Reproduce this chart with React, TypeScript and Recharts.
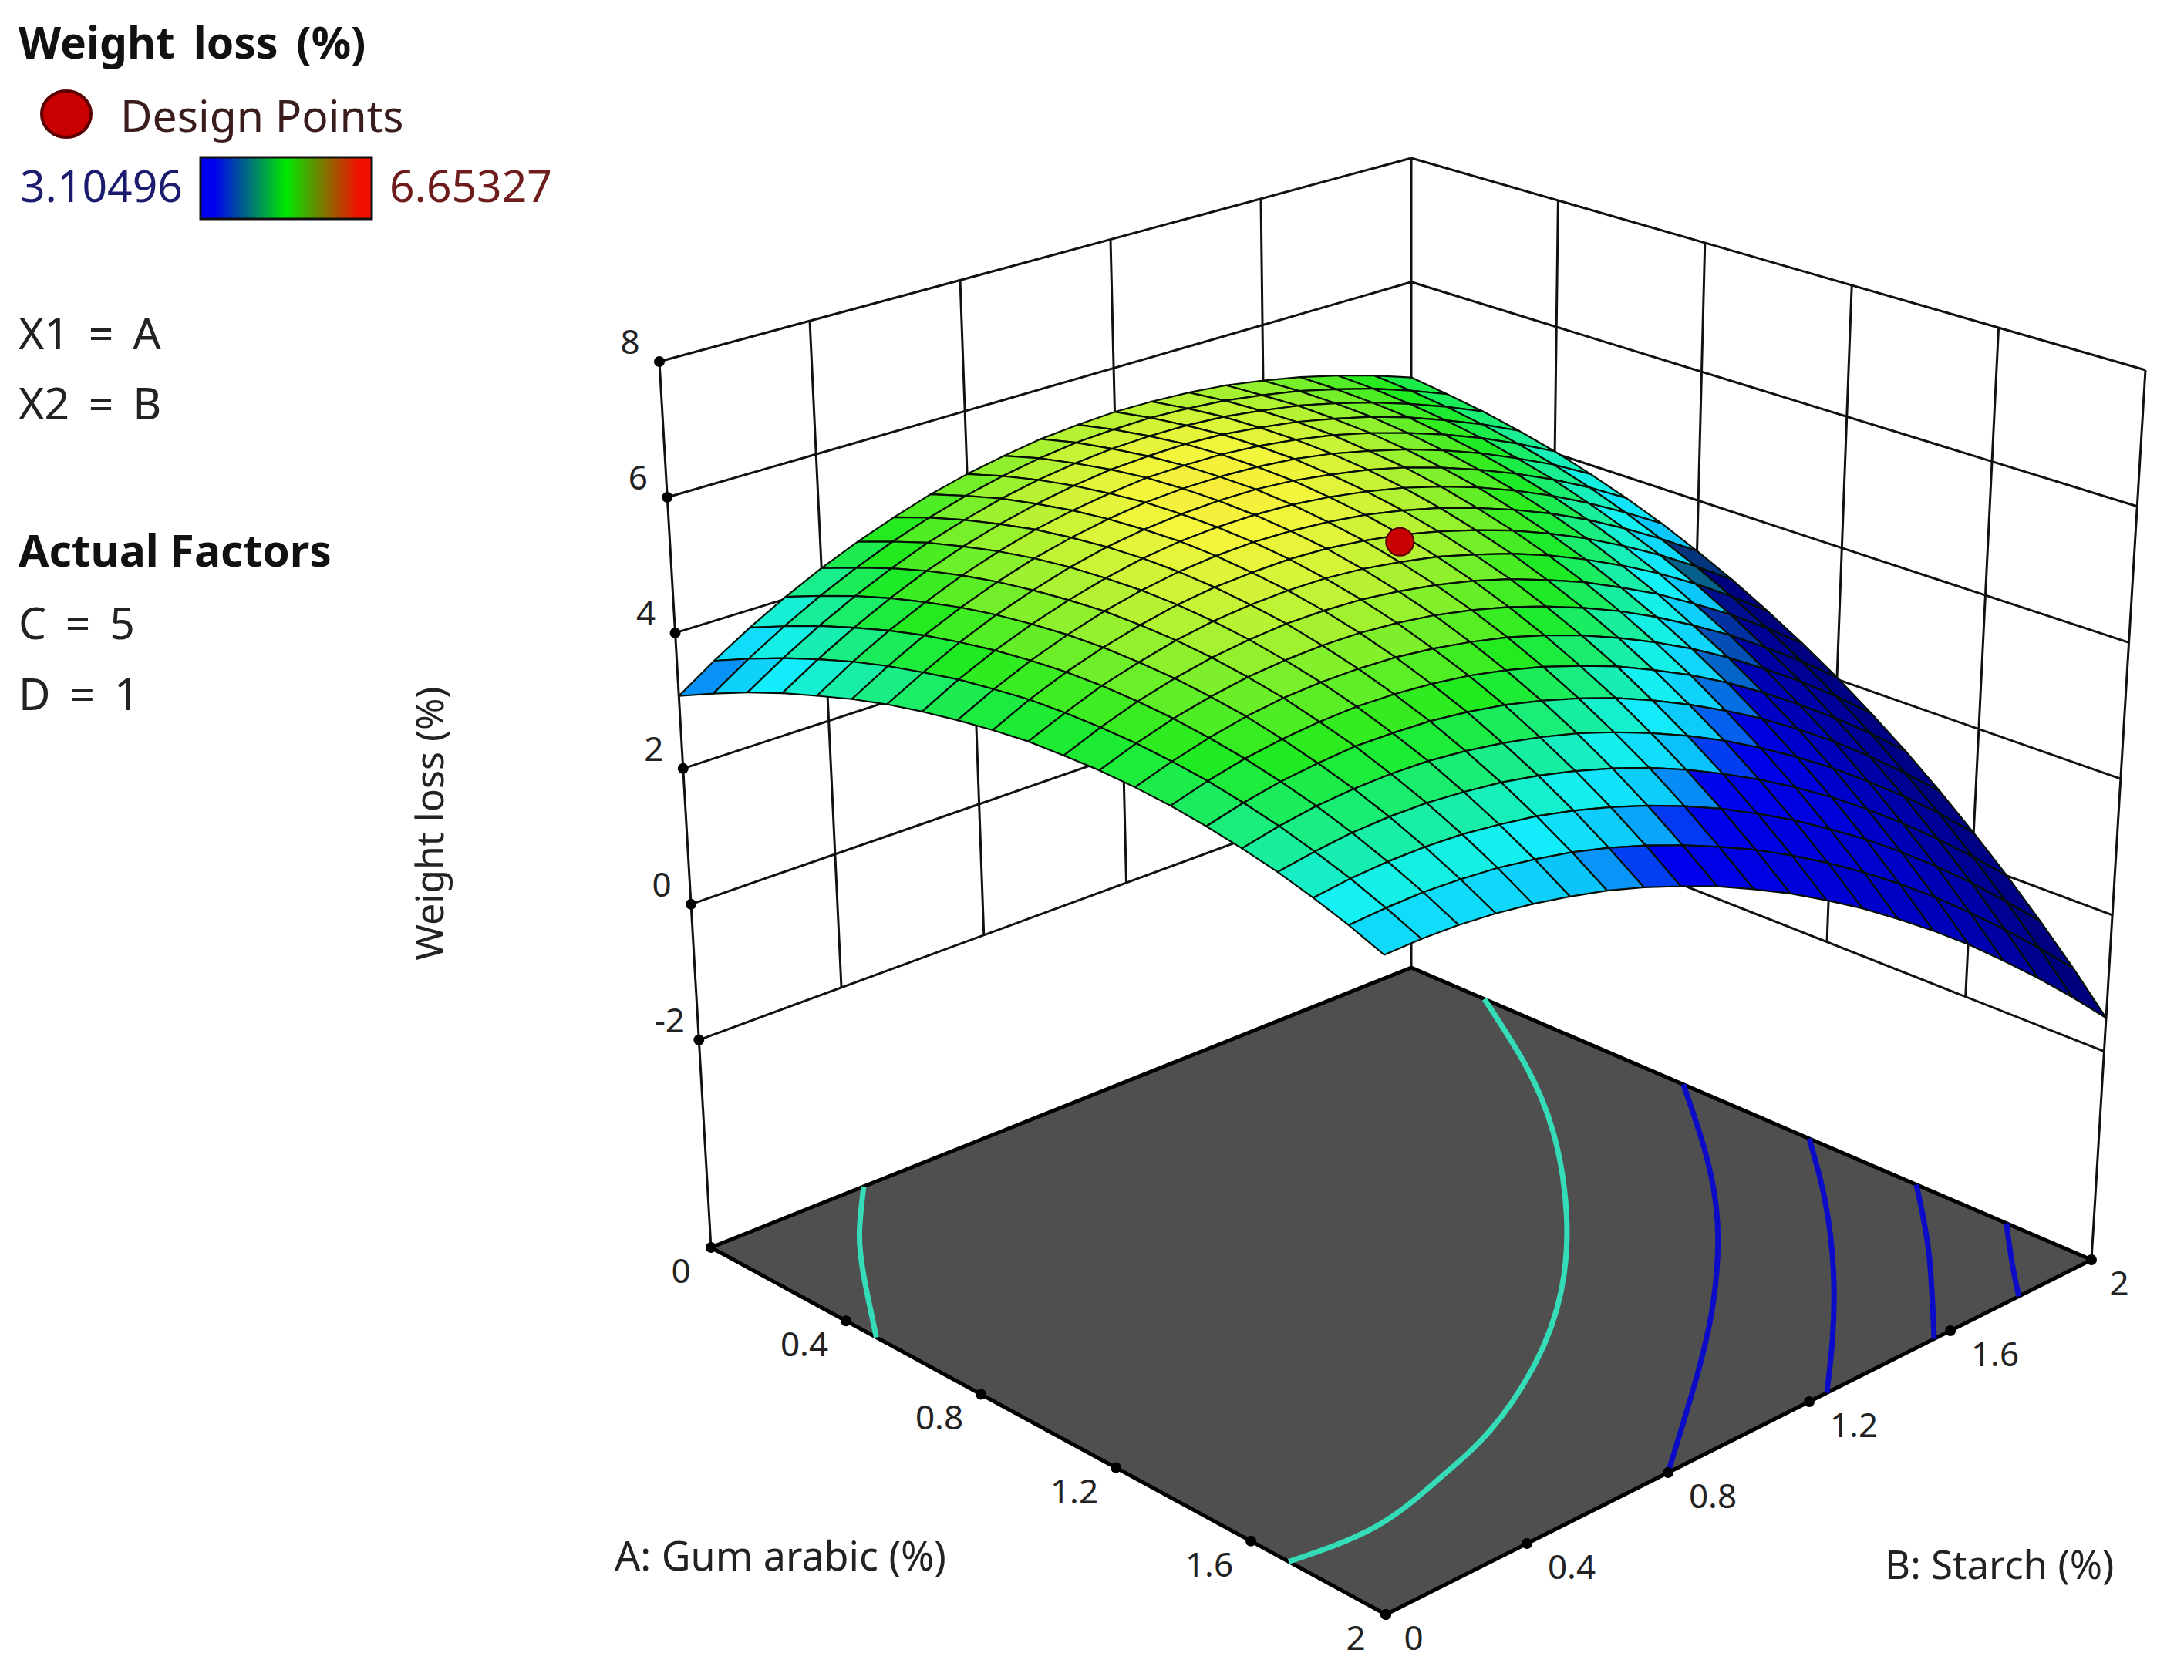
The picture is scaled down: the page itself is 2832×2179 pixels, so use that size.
import { ComposedChart, Line, Scatter, XAxis, YAxis } from 'recharts';

const W = 2832;
const H = 2179;

// A = 0..2 by rows, B = 0..2 by columns
const weightLoss = [
  [3.07, 3.42, 3.74, 4.03, 4.29, 4.52, 4.72, 4.90, 5.04, 5.15, 5.24, 5.29, 5.32, 5.31, 5.28, 5.22, 5.12, 5.00, 4.85, 4.67, 4.46],
  [3.34, 3.68, 3.99, 4.27, 4.52, 4.74, 4.93, 5.09, 5.22, 5.32, 5.39, 5.42, 5.43, 5.40, 5.35, 5.26, 5.15, 5.00, 4.83, 4.62, 4.38],
  [3.59, 3.92, 4.22, 4.49, 4.73, 4.94, 5.11, 5.26, 5.37, 5.45, 5.50, 5.52, 5.51, 5.47, 5.39, 5.29, 5.15, 4.98, 4.78, 4.55, 4.29],
  [3.81, 4.13, 4.42, 4.68, 4.91, 5.10, 5.26, 5.39, 5.49, 5.56, 5.59, 5.60, 5.57, 5.50, 5.41, 5.28, 5.13, 4.94, 4.71, 4.46, 4.17],
  [4.00, 4.32, 4.60, 4.84, 5.06, 5.24, 5.39, 5.50, 5.58, 5.64, 5.65, 5.64, 5.59, 5.51, 5.40, 5.25, 5.07, 4.86, 4.62, 4.34, 4.03],
  [4.18, 4.48, 4.75, 4.98, 5.18, 5.35, 5.48, 5.58, 5.65, 5.68, 5.68, 5.65, 5.59, 5.49, 5.35, 5.19, 4.99, 4.76, 4.49, 4.20, 3.86],
  [4.33, 4.61, 4.87, 5.09, 5.27, 5.43, 5.55, 5.63, 5.68, 5.70, 5.69, 5.64, 5.55, 5.44, 5.29, 5.10, 4.88, 4.63, 4.35, 4.03, 3.67],
  [4.45, 4.73, 4.97, 5.17, 5.34, 5.48, 5.59, 5.66, 5.69, 5.69, 5.66, 5.59, 5.49, 5.36, 5.19, 4.99, 4.75, 4.48, 4.17, 3.83, 3.46],
  [4.55, 4.81, 5.04, 5.23, 5.39, 5.51, 5.60, 5.65, 5.67, 5.65, 5.60, 5.52, 5.40, 5.25, 5.06, 4.84, 4.59, 4.30, 3.97, 3.61, 3.22],
  [4.63, 4.88, 5.09, 5.26, 5.40, 5.51, 5.58, 5.61, 5.62, 5.59, 5.52, 5.42, 5.28, 5.11, 4.91, 4.67, 4.40, 4.09, 3.75, 3.37, 2.96],
  [4.69, 4.91, 5.11, 5.26, 5.39, 5.48, 5.53, 5.55, 5.54, 5.49, 5.40, 5.29, 5.13, 4.95, 4.73, 4.47, 4.18, 3.86, 3.50, 3.10, 2.67],
  [4.71, 4.92, 5.10, 5.24, 5.35, 5.42, 5.46, 5.46, 5.43, 5.36, 5.26, 5.13, 4.96, 4.75, 4.52, 4.24, 3.94, 3.59, 3.22, 2.81, 2.36],
  [4.72, 4.91, 5.07, 5.19, 5.28, 5.33, 5.35, 5.34, 5.29, 5.21, 5.09, 4.94, 4.75, 4.53, 4.28, 3.99, 3.66, 3.31, 2.91, 2.49, 2.03],
  [4.70, 4.87, 5.01, 5.12, 5.19, 5.22, 5.22, 5.19, 5.12, 5.02, 4.89, 4.72, 4.52, 4.28, 4.01, 3.71, 3.37, 2.99, 2.59, 2.15, 1.67],
  [4.66, 4.81, 4.93, 5.01, 5.06, 5.08, 5.06, 5.01, 4.93, 4.81, 4.66, 4.47, 4.26, 4.00, 3.72, 3.40, 3.04, 2.65, 2.23, 1.78, 1.29],
  [4.59, 4.72, 4.82, 4.88, 4.92, 4.91, 4.88, 4.81, 4.71, 4.57, 4.40, 4.20, 3.96, 3.69, 3.39, 3.06, 2.69, 2.29, 1.85, 1.38, 0.88],
  [4.50, 4.61, 4.69, 4.73, 4.74, 4.72, 4.66, 4.57, 4.45, 4.30, 4.11, 3.89, 3.64, 3.36, 3.04, 2.69, 2.31, 1.89, 1.45, 0.97, 0.45],
  [4.39, 4.47, 4.53, 4.55, 4.54, 4.49, 4.42, 4.31, 4.17, 4.00, 3.80, 3.56, 3.29, 2.99, 2.66, 2.30, 1.90, 1.47, 1.01, 0.52, 0.00],
  [4.25, 4.31, 4.34, 4.34, 4.31, 4.24, 4.15, 4.02, 3.86, 3.67, 3.45, 3.20, 2.91, 2.60, 2.25, 1.88, 1.47, 1.03, 0.56, 0.05, -0.48],
  [4.09, 4.12, 4.13, 4.10, 4.05, 3.96, 3.85, 3.70, 3.52, 3.31, 3.07, 2.81, 2.51, 2.18, 1.82, 1.43, 1.01, 0.55, 0.07, -0.44, -0.98],
  [3.90, 3.91, 3.89, 3.84, 3.76, 3.65, 3.52, 3.35, 3.15, 2.93, 2.67, 2.39, 2.07, 1.73, 1.35, 0.95, 0.52, 0.05, -0.44, -0.96, -1.51],
];

const factorTicks = [0, 0.4, 0.8, 1.2, 1.6, 2];
const responseTicks = [-2, 0, 2, 4, 6, 8];
const designPoints = [{ A: 1, B: 1, loss: 5.7 }];

// floor contours, [A, B] pairs
const contourHighLeft = [[0, 0.436], [0.145, 0.284], [0.287, 0.16], [0.49, 0]];
const contourHighMain = [
  [0.215, 2], [0.5, 1.84], [0.77, 1.659], [1.056, 1.42], [1.292, 1.177], [1.476, 0.927],
  [1.615, 0.664], [1.684, 0.454], [1.734, 0.226], [1.712, 0],
];
const contour3 = [[0.8, 2], [1.054, 1.816], [1.307, 1.607], [1.558, 1.352], [1.769, 1.099], [2, 0.8]];
const contour2 = [[1.17, 2], [1.393, 1.829], [1.635, 1.62], [1.842, 1.418], [2, 1.25]];
const contour1 = [[1.485, 2], [1.724, 1.805], [2, 1.554]];
const contour0 = [[1.75, 2], [1.88, 1.89], [2, 1.794]];

const FLOOR_Z = -5.06;
const TOP_Z = 8;

// camera: box corners on the page, blended along each axis
const corners = {
  p000: [922, 1618], p100: [1797, 2094], p110: [2712, 1634], p010: [1830, 1255],
  p001: [855, 469], p101: [1794, 847], p111: [2782, 480], p011: [1830, 205],
};

function project(A: number, B: number, Z: number) {
  const a = A / 2;
  const b = B / 2;
  const w = (Z - FLOOR_Z) / (TOP_Z - FLOOR_Z);
  const c = corners;
  const mix = (k: number) =>
    (1 - w) * ((1 - a) * (1 - b) * c.p000[k] + a * (1 - b) * c.p100[k] + a * b * c.p110[k] + (1 - a) * b * c.p010[k]) +
    w * ((1 - a) * (1 - b) * c.p001[k] + a * (1 - b) * c.p101[k] + a * b * c.p111[k] + (1 - a) * b * c.p011[k]);
  return { x: mix(0), y: mix(1) };
}

const rampLevels = [3.1, 3.45, 3.85, 4.7, 5.6, 6.65];
const rampColors = [
  [0, 0, 238],
  [10, 190, 250],
  [20, 240, 250],
  [30, 235, 30],
  [245, 245, 60],
  [240, 20, 0],
];

function lossColor(z: number, shade: number) {
  if (z <= rampLevels[0]) {
    const t = Math.max(0, (rampLevels[0] - z) / 4.7);
    return `rgb(0,0,${Math.round((238 - 110 * t) * shade)})`;
  }
  let i = 0;
  while (i < rampLevels.length - 2 && z > rampLevels[i + 1]) i++;
  const f = (z - rampLevels[i]) / (rampLevels[i + 1] - rampLevels[i]);
  const c = rampColors[i].map((v, k) => Math.round((v + (rampColors[i + 1][k] - v) * f) * shade));
  return `rgb(${c[0]},${c[1]},${c[2]})`;
}

// far corner first so the near cells paint over
const cells: any[] = [];
const n = weightLoss.length - 1;
for (let i = 0; i < n; i++) {
  for (let j = n - 1; j >= 0; j--) {
    const step = 2 / n;
    const quad = [
      project(i * step, j * step, weightLoss[i][j]),
      project((i + 1) * step, j * step, weightLoss[i + 1][j]),
      project((i + 1) * step, (j + 1) * step, weightLoss[i + 1][j + 1]),
      project(i * step, (j + 1) * step, weightLoss[i][j + 1]),
    ];
    const avg = (weightLoss[i][j] + weightLoss[i + 1][j] + weightLoss[i + 1][j + 1] + weightLoss[i][j + 1]) / 4;
    // the front corner of the box is not visible, so its colours run a little cool
    const tone = avg - (0.35 * (i + 0.5) * (n - j - 0.5)) / (n * n);
    const area =
      Math.abs(
        quad.reduce((s, p, k) => {
          const q = quad[(k + 1) % 4];
          return s + p.x * q.y - q.x * p.y;
        }, 0)
      ) / 2;
    // steep blue cells seen at a grazing angle go darker
    const shade = tone < 3.5 ? Math.min(1, Math.max(0.5, area / 1900)) : 1;
    cells.push({
      x: quad.reduce((s, p) => s + p.x, 0) / 4,
      y: quad.reduce((s, p) => s + p.y, 0) / 4,
      quad,
      fill: lossColor(tone, shade),
    });
  }
}

const floorQuad = [project(0, 0, FLOOR_Z), project(2, 0, FLOOR_Z), project(2, 2, FLOOR_Z), project(0, 2, FLOOR_Z)];
const floorData = [{ x: floorQuad[0].x, y: floorQuad[0].y, quad: floorQuad, fill: '#4f4f4f' }];

function QuadShape({ cx, cy, payload, stroke, strokeWidth }: any) {
  const dx = cx - payload.x;
  const dy = cy - payload.y;
  const pts = payload.quad.map((p: any) => `${p.x + dx},${p.y + dy}`).join(' ');
  return <polygon points={pts} fill={payload.fill} stroke={stroke} strokeWidth={strokeWidth} strokeLinejoin="round" />;
}

const walls: any[] = [];
responseTicks.forEach((z) => {
  walls.push([project(0, 0, z), project(0, 2, z)]);
  walls.push([project(0, 2, z), project(2, 2, z)]);
});
factorTicks.slice(1, -1).forEach((t) => {
  walls.push([project(0, t, -2), project(0, t, TOP_Z)]);
  walls.push([project(t, 2, -2), project(t, 2, TOP_Z)]);
});
walls.push([project(0, 0, FLOOR_Z), project(0, 0, TOP_Z)]);
walls.push([project(0, 2, FLOOR_Z), project(0, 2, TOP_Z)]);
walls.push([project(2, 2, FLOOR_Z), project(2, 2, TOP_Z)]);

const contourLines = [
  { pts: contourHighLeft, color: '#34dcb8' },
  { pts: contourHighMain, color: '#34dcb8' },
  { pts: contour3, color: '#0c0cc8' },
  { pts: contour2, color: '#0c0cc8' },
  { pts: contour1, color: '#0c0cc8' },
  { pts: contour0, color: '#0c0cc8' },
].map((c) => ({ color: c.color, data: c.pts.map(([A, B]) => project(A, B, FLOOR_Z)) }));

const tickFont = { fontFamily: '"Noto Sans", sans-serif', fontSize: 44, fill: '#222' };

const responseTickData = responseTicks.map((z) => ({ ...project(0, 0, z), text: String(z) }));
const aTickData = factorTicks.map((t) => ({
  ...project(t, 0, FLOOR_Z),
  text: String(t),
  dx: t === 0 || t === 2 ? -39 : -54,
}));
const bTickData = factorTicks.map((t) => ({
  ...project(2, t, FLOOR_Z),
  text: String(t),
  dx: t === 0 || t === 2 ? 36 : 58,
}));

function TickDot({ cx, cy, payload, dy }: any) {
  return (
    <g>
      <circle cx={cx} cy={cy} r={7} fill="#000" />
      <text x={cx + payload.dx} y={cy + dy} textAnchor="middle" dominantBaseline="central" {...tickFont}>
        {payload.text}
      </text>
    </g>
  );
}

const responseShape = (p: any) => <TickDot {...p} payload={{ ...p.payload, dx: -38 }} dy={-27} />;
const factorShape = (p: any) => <TickDot {...p} dy={29} />;

const designData = designPoints.map((d) => project(d.A, d.B, d.loss));

const sans = '"Noto Sans", sans-serif';

function Annotations() {
  const t = { fontFamily: sans, fontSize: 57, fill: '#222' };
  const eq = { ...t, wordSpacing: 10 };
  const bold = { fontFamily: sans, fontSize: 57, fontWeight: 700, fill: '#111' };
  return (
    <svg width={W} height={H} style={{ position: 'absolute', left: 0, top: 0, pointerEvents: 'none' }}>
      <defs>
        <linearGradient id="lossRamp" x1="0" x2="1" y1="0" y2="0">
          <stop offset="0.08" stopColor="#0000f0" />
          <stop offset="0.5" stopColor="#00e800" />
          <stop offset="0.92" stopColor="#f01000" />
        </linearGradient>
      </defs>
      <text x={24} y={76} {...bold} wordSpacing={9}>Weight loss (%)</text>
      <ellipse cx={86} cy={148} rx={32} ry={30} fill="#c80000" stroke="#5a0000" strokeWidth={4} />
      <text x={156} y={171} {...t} fill="#3a1c1c">Design Points</text>
      <text x={26} y={262} {...t} fill="#1c1c6e">3.10496</text>
      <rect x={260} y={204} width={222} height={80} fill="url(#lossRamp)" stroke="#111" strokeWidth={3} />
      <text x={505} y={262} {...t} fill="#6e1c1c">6.65327</text>
      <text x={24} y={453} {...eq}>X1 = A</text>
      <text x={24} y={544} {...eq}>X2 = B</text>
      <text x={24} y={735} {...bold}>Actual Factors</text>
      <text x={24} y={829} {...eq}>C = 5</text>
      <text x={24} y={921} {...eq}>D = 1</text>
      <text x={0} y={0} transform="translate(575,1068) rotate(-90)" textAnchor="middle" {...t} fontSize={50}>Weight loss (%)</text>
      <text x={797} y={2037} {...t} fontSize={52}>A: Gum arabic (%)</text>
      <text x={2444} y={2048} {...t} fontSize={51}>B: Starch (%)</text>
    </svg>
  );
}

export default function App() {
  return (
    <div style={{ position: 'absolute', left: 0, top: 0, width: W, height: H, background: '#fff' }}>
      <ComposedChart width={W} height={H} margin={{ top: 0, right: 0, bottom: 0, left: 0 }}>
        <XAxis type="number" dataKey="x" domain={[0, W]} hide allowDataOverflow />
        <YAxis type="number" dataKey="y" domain={[0, H]} reversed hide allowDataOverflow />
        {walls.map((seg, i) => (
          <Line
            key={`wall-${i}`}
            data={seg}
            dataKey="y"
            stroke="#111"
            strokeWidth={3}
            dot={false}
            activeDot={false}
            isAnimationActive={false}
            zIndex={100}
          />
        ))}
        <Scatter
          data={floorData}
          dataKey="y"
          shape={(p: any) => <QuadShape {...p} stroke="#000" strokeWidth={5} />}
          isAnimationActive={false}
          zIndex={200}
        />
        {contourLines.map((c, i) => (
          <Line
            key={`contour-${i}`}
            data={c.data}
            dataKey="y"
            type="natural"
            stroke={c.color}
            strokeWidth={7}
            dot={false}
            activeDot={false}
            isAnimationActive={false}
            zIndex={300}
          />
        ))}
        <Scatter
          data={cells}
          dataKey="y"
          shape={(p: any) => <QuadShape {...p} stroke="#050f05" strokeWidth={2.2} />}
          isAnimationActive={false}
          zIndex={400}
        />
        <Scatter
          data={designData}
          dataKey="y"
          shape={(p: any) => <circle cx={p.cx} cy={p.cy} r={18} fill="#c80000" stroke="#5a0000" strokeWidth={2} />}
          isAnimationActive={false}
          zIndex={500}
        />
        <Scatter data={responseTickData} dataKey="y" shape={responseShape} isAnimationActive={false} zIndex={600} />
        <Scatter data={aTickData} dataKey="y" shape={factorShape} isAnimationActive={false} zIndex={600} />
        <Scatter data={bTickData} dataKey="y" shape={factorShape} isAnimationActive={false} zIndex={600} />
      </ComposedChart>
      <Annotations />
    </div>
  );
}
